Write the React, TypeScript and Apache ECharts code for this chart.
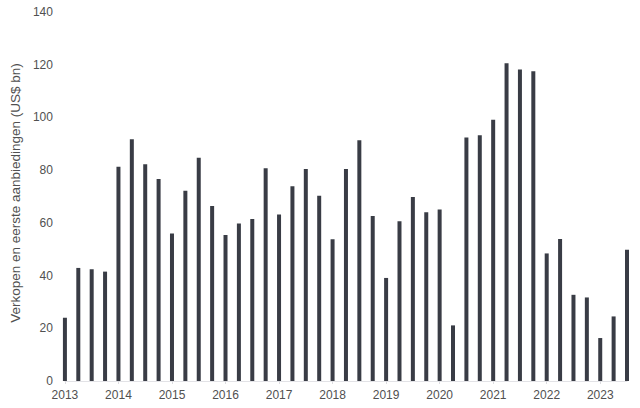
import React, { useEffect, useRef } from "react";
import * as echarts from "echarts";

const years = ["2013", "2014", "2015", "2016", "2017", "2018", "2019", "2020", "2021", "2022", "2023"];
const quarters = ["Q1", "Q2", "Q3", "Q4"];

// Quarterly values, 2013 Q1 – 2023 Q3 (US$ bn)
const values = [
  24.0, 42.9, 42.4, 41.5,
  81.3, 91.7, 82.2, 76.6,
  56.0, 72.2, 84.7, 66.4,
  55.4, 59.8, 61.5, 80.7,
  63.2, 73.9, 80.4, 70.3,
  53.8, 80.4, 91.3, 62.6,
  39.1, 60.6, 69.8, 64.0,
  65.1, 21.1, 92.4, 93.2,
  99.1, 120.6, 118.2, 117.5,
  48.4, 53.9, 32.7, 31.7,
  16.3, 24.5, 49.8,
];

const categories: string[] = [];
years.forEach((y) => quarters.forEach((q) => categories.push(`${y} ${q}`)));
categories.length = values.length;

const yTicks = { min: 0, max: 140, interval: 20 };
const yName = "Verkopen en eerste aanbiedingen (US$ bn)";

const FONT = "'Liberation Sans', Arial, Helvetica, sans-serif";

export default function App() {
  const ref = useRef<HTMLDivElement>(null);
  useEffect(() => {
    if (!ref.current) return;
    const chart = echarts.init(ref.current, undefined, { renderer: "svg" });
    chart.setOption({
      animation: false,
      backgroundColor: "#ffffff",
      textStyle: { fontFamily: FONT },
      grid: { left: 63, right: 13, top: 12, bottom: 27, containLabel: false },
      xAxis: {
        type: "category",
        data: categories,
        boundaryGap: false,
        axisLine: { show: true, lineStyle: { color: "#e2e2e6", width: 1 } },
        axisTick: {
          show: true,
          interval: 3,
          length: 3,
          lineStyle: { color: "#dcdce0" },
        },
        axisLabel: {
          interval: 3,
          color: "#505050",
          fontSize: 12,
          fontFamily: FONT,
          margin: 8,
          formatter: (v: string) => v.split(" ")[0],
        },
        splitLine: { show: false },
      },
      yAxis: {
        type: "value",
        min: yTicks.min,
        max: yTicks.max,
        interval: yTicks.interval,
        axisLine: { show: false },
        axisTick: { show: false },
        splitLine: { show: false },
        axisLabel: { color: "#505050", fontSize: 12, fontFamily: FONT, margin: 12 },
        name: yName,
        nameLocation: "middle",
        nameRotate: 90,
        nameGap: 27,
        nameTextStyle: { color: "#505050", fontSize: 13.5, fontFamily: FONT, padding: [0, 0, 0, 7] },
      },
      series: [
        {
          type: "bar",
          data: values,
          barWidth: 4,
          clip: false,
          itemStyle: { color: "#393c45" },
        },
      ],
    });
    return () => chart.dispose();
  }, []);
  return (
    <div
      ref={ref}
      style={{ position: "absolute", left: 0, top: 0, width: 640, height: 408 }}
    />
  );
}
